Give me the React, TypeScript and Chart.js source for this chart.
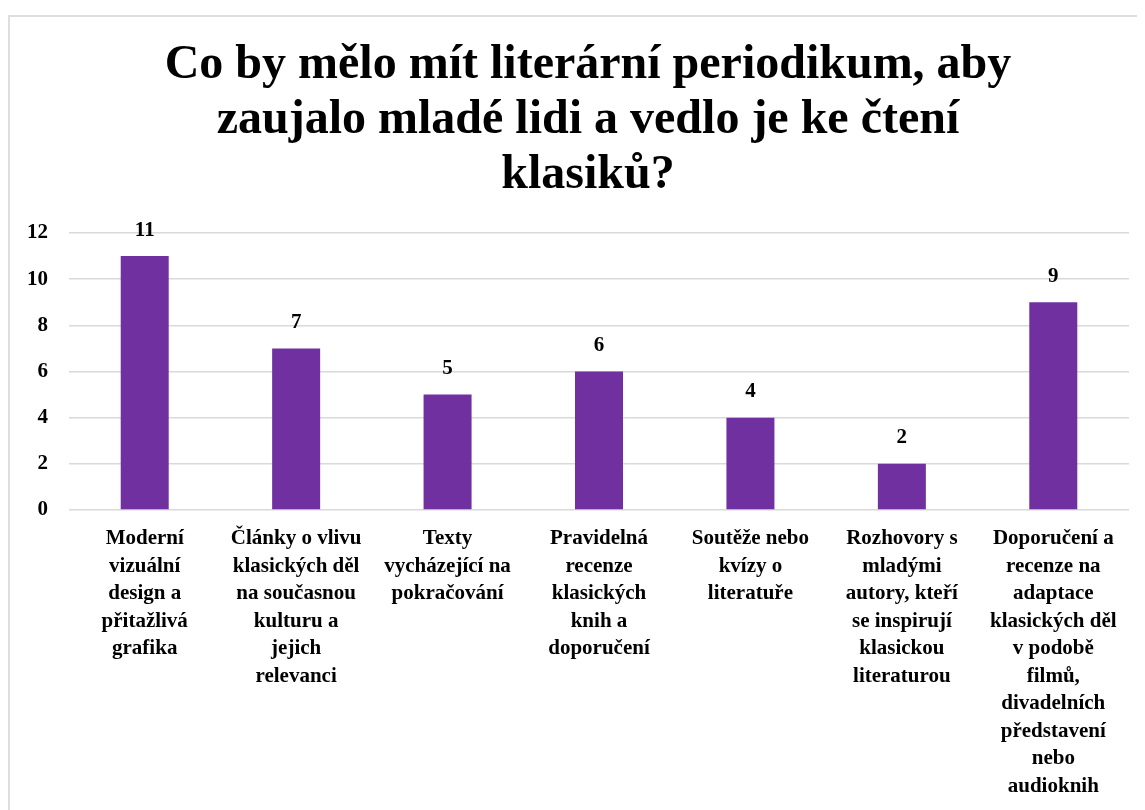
import React, { useEffect, useRef } from "react";
import { Chart, registerables } from "chart.js";

Chart.register(...registerables);

const titleLines = [
  "Co by mělo mít literární periodikum, aby",
  "zaujalo mladé lidi a vedlo je ke čtení",
  "klasiků?",
];

const categories: string[][] = [
  ["Moderní", "vizuální", "design a", "přitažlivá", "grafika"],
  ["Články o vlivu", "klasických děl", "na současnou", "kulturu a", "jejich", "relevanci"],
  ["Texty", "vycházející na", "pokračování"],
  ["Pravidelná", "recenze", "klasických", "knih a", "doporučení"],
  ["Soutěže nebo", "kvízy o", "literatuře"],
  ["Rozhovory s", "mladými", "autory, kteří", "se inspirují", "klasickou", "literaturou"],
  ["Doporučení a", "recenze na", "adaptace", "klasických děl", "v podobě", "filmů,", "divadelních", "představení", "nebo", "audioknih"],
];

const values = [11, 7, 5, 6, 4, 2, 9];

const yTicks = [0, 2, 4, 6, 8, 10, 12];

const FONT = '"Liberation Serif", "Times New Roman", serif';

const valueLabelPlugin = {
  id: "valueLabels",
  afterDatasetsDraw(chart: any) {
    const ctx = chart.ctx;
    const meta = chart.getDatasetMeta(0);
    ctx.save();
    ctx.font = `bold 21px ${FONT}`;
    ctx.fillStyle = "#000";
    ctx.textAlign = "center";
    ctx.textBaseline = "middle";
    meta.data.forEach((bar: any, i: number) => {
      const v = chart.data.datasets[0].data[i];
      ctx.fillText(String(v), bar.x, bar.y - 26);
    });
    ctx.restore();
  },
};

// Center the title across the whole canvas rather than the padded area
const centerTitlePlugin = {
  id: "centerTitle",
  afterLayout(chart: any) {
    if (chart.titleBlock) {
      chart.titleBlock.left = 0;
      chart.titleBlock.right = chart.width;
    }
  },
};

export default function App() {
  const ref = useRef<HTMLCanvasElement | null>(null);

  useEffect(() => {
    if (!ref.current) return;
    const chart = new Chart(ref.current, {
      type: "bar",
      data: {
        labels: categories,
        datasets: [
          {
            data: values,
            backgroundColor: "#7030A0",
            borderWidth: 0,
            barPercentage: 0.317,
            categoryPercentage: 1,
          },
        ],
      },
      options: {
        animation: false,
        responsive: false,
        maintainAspectRatio: false,
        layout: { padding: { left: 0, right: 37, top: 0, bottom: 0 } },
        plugins: {
          legend: { display: false },
          tooltip: { enabled: false },
          title: {
            display: true,
            text: titleLines,
            color: "#000",
            font: { family: FONT, size: 48, weight: "bold", lineHeight: 1.146 },
            padding: { top: 21, bottom: 30 },
          },
        },
        scales: {
          x: {
            grid: { display: false, drawTicks: false },
            border: { display: false },
            ticks: {
              color: "#000",
              font: { family: FONT, size: 21, weight: "bold", lineHeight: 1.31 },
              padding: 15,
              autoSkip: false,
              maxRotation: 0,
              minRotation: 0,
            },
            afterFit: (s: any) => {
              s.height = 307;
            },
          },
          y: {
            min: 0,
            max: 12,
            afterBuildTicks: (s: any) => {
              s.ticks = yTicks.map((v) => ({ value: v }));
            },
            grid: { color: "#d9d9d9", lineWidth: 1.5, drawTicks: false },
            border: { display: false },
            ticks: {
              color: "#000",
              font: { family: FONT, size: 21, weight: "bold" },
              padding: 21,
            },
            afterFit: (s: any) => {
              s.width = 59;
            },
          },
        },
      },
      plugins: [valueLabelPlugin, centerTitlePlugin],
    });
    return () => chart.destroy();
  }, []);

  return (
    <div style={{ marginTop: 7, width: 1137, height: 795, overflow: "hidden" }}>
      <div
        style={{
          width: 1156,
          height: 800,
          border: "2px solid #dedede",
          borderRight: "none",
          borderBottom: "none",
        }}
      >
        <canvas ref={ref} width={1156} height={800} style={{ display: "block" }} />
      </div>
    </div>
  );
}
